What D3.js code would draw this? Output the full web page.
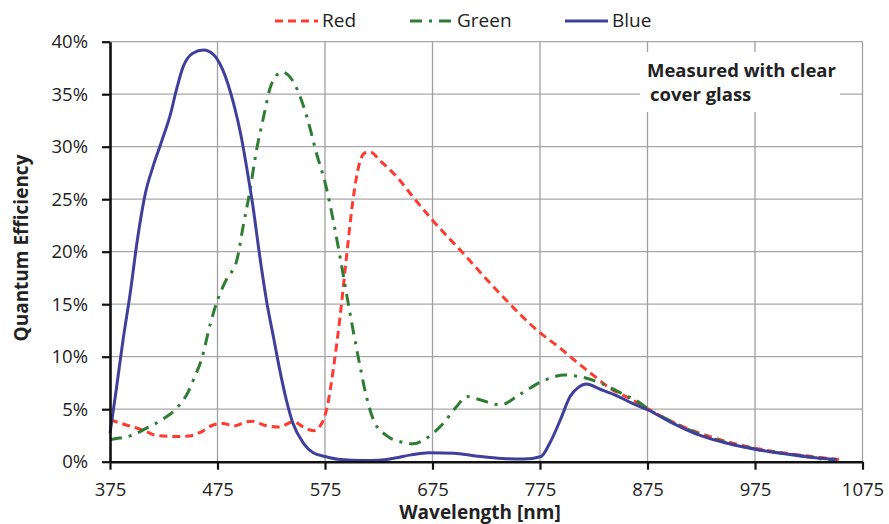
<!DOCTYPE html>
<html>
<head>
<meta charset="utf-8">
<script src="https://cdn.jsdelivr.net/npm/d3@7"></script>
<style>
    body { margin: 0; background: #fff; }
    text { font-family: "Open Sans", sans-serif; fill: #222; }
</style>
</head>
<body>
<svg id="chart" width="889" height="524"></svg>
<script>
// tick values
var xTicks = [375, 475, 575, 675, 775, 875, 975, 1075];
var yTicks = [0, 5, 10, 15, 20, 25, 30, 35, 40];

// Blue channel (wavelength nm / QE %)
var blueWl = [375, 381, 387, 394, 400, 408, 415, 423, 431, 437, 443, 452, 462, 471, 480, 490, 497, 502, 508, 514,
    521, 527, 533, 539, 545, 555, 564, 575, 590, 610, 625, 640, 655, 672, 695, 715, 740, 760, 776, 784,
    794, 803, 811, 818, 831, 846, 860, 876, 896, 924, 949, 976, 1004, 1029, 1051];
var blueQE = [2.7, 7.0, 11.5, 16.2, 20.8, 25.6, 28.1, 30.5, 33.0, 35.5, 37.6, 38.9, 39.2, 38.8, 37.3, 34.1, 31.0, 28.1, 24.3, 19.8,
    15.1, 11.9, 8.7, 5.9, 3.7, 1.75, 0.85, 0.5, 0.2, 0.12, 0.15, 0.35, 0.65, 0.85, 0.8, 0.55, 0.3, 0.25, 0.5, 1.75,
    4.0, 6.2, 7.1, 7.4, 6.9, 6.3, 5.6, 4.9, 3.8, 2.5, 1.75, 1.17, 0.73, 0.41, 0.2];

// Green channel
var greenWl = [375, 381, 395, 409, 425, 437, 448, 453, 460, 468, 474, 483, 493, 499, 505, 511, 518, 525, 535, 541,
    547, 558, 567, 576, 583, 589, 595, 601, 607, 614, 620, 632, 645, 657, 669, 685, 697, 707, 719, 738,
    756, 778, 798, 812, 831, 849, 868, 876, 896, 924, 949, 976, 1004, 1029, 1048];
var greenQE = [2.1, 2.2, 2.5, 3.2, 4.1, 5.1, 6.7, 7.9, 9.7, 13.0, 15.1, 17.3, 19.2, 22.5, 25.7, 29.5, 32.9, 35.9, 37.1, 36.8,
    35.9, 32.9, 29.4, 26.2, 22.8, 19.5, 16.0, 12.6, 9.4, 6.0, 4.0, 2.5, 1.9, 1.7, 2.2, 3.65, 5.2, 6.2, 5.9, 5.4,
    6.4, 7.7, 8.25, 8.1, 7.5, 6.6, 5.6, 5.0, 3.9, 2.6, 1.8, 1.2, 0.75, 0.4, 0.06];

// Red channel
var redWl = [375, 390, 406, 418, 434, 449, 459, 471, 480, 490, 502, 508, 518, 532, 546, 555, 564, 572, 577, 583,
    589, 595, 601, 607, 612, 617, 626, 642, 657, 675, 704, 735, 776, 794, 809, 825, 840, 859, 876, 896,
    924, 949, 976, 1004, 1029, 1053];
var redQE = [4.0, 3.5, 3.0, 2.5, 2.4, 2.45, 2.8, 3.5, 3.65, 3.4, 3.8, 3.85, 3.5, 3.3, 3.8, 3.3, 2.95, 3.65, 5.2, 9.0,
    13.8, 19.5, 24.9, 28.4, 29.4, 29.5, 28.7, 27.1, 25.2, 23.0, 19.8, 16.3, 12.2, 10.8, 9.5, 8.2, 7.0, 6.0, 5.0, 3.9,
    2.7, 1.9, 1.27, 0.8, 0.48, 0.2];

var series = [
    {name: 'Red', wl: redWl, qe: redQE, color: '#ff3b2f', dash: '8,5', lx: 275},
    {name: 'Green', wl: greenWl, qe: greenQE, color: '#2e7d32', dash: '12,7,3,7', lx: 410},
    {name: 'Blue', wl: blueWl, qe: blueQE, color: '#3f3f9c', dash: null, lx: 565}
];

var svg = d3.select('#chart');
var plot = {left: 110, right: 862.5, top: 41.7, bottom: 461.7};

var x = d3.scaleLinear().domain([375, 1075]).range([plot.left, plot.right]);
var y = d3.scaleLinear().domain([0, 40]).range([plot.bottom, plot.top]);

// grid
var grid = svg.append('g').attr('class', 'grid');
grid.selectAll('line.h')
    .data(yTicks.filter(function (d) { return d > 0; }))
    .enter().append('line')
    .attr('x1', plot.left).attr('x2', plot.right)
    .attr('y1', y).attr('y2', y)
    .attr('stroke', '#a8a8a8').attr('stroke-width', 1.3);
grid.selectAll('line.v')
    .data(xTicks.filter(function (d) { return d > 375; }))
    .enter().append('line')
    .attr('x1', x).attr('x2', x)
    .attr('y1', plot.top).attr('y2', plot.bottom)
    .attr('stroke', '#a0a0a0').attr('stroke-width', 1.3);

// note box hides grid behind it
svg.append('rect')
    .attr('x', 640).attr('y', 52).attr('width', 200).attr('height', 60)
    .attr('fill', '#fff');
var note = svg.append('text')
    .attr('x', 647).attr('y', 77)
    .style('font-size', '18.5px').style('font-weight', 'bold');
note.append('tspan').text('Measured with clear');
note.append('tspan').attr('x', 650).attr('y', 101).text('cover glass');

// curves
var line = d3.line().curve(d3.curveMonotoneX);
series.forEach(function (s) {
    var pts = s.wl.map(function (w, i) { return [x(w), y(s.qe[i])]; });
    svg.append('path')
        .attr('d', line(pts))
        .attr('fill', 'none')
        .attr('stroke', s.color)
        .attr('stroke-width', 3)
        .attr('stroke-dasharray', s.dash);
});

// axes
var yAxis = svg.append('g')
    .attr('transform', 'translate(' + plot.left + ',0)')
    .call(d3.axisLeft(y).tickValues(yTicks).tickFormat(function (d) { return d + '%'; })
        .tickSizeInner(8).tickSizeOuter(0).tickPadding(14));
var xAxis = svg.append('g')
    .attr('transform', 'translate(0,' + plot.bottom + ')')
    .call(d3.axisBottom(x).tickValues(xTicks).tickFormat(d3.format('d'))
        .tickSizeInner(8).tickSizeOuter(0));
[xAxis, yAxis].forEach(function (g) {
    g.select('.domain').attr('stroke', '#111').attr('stroke-width', 2.6);
    g.selectAll('.tick line').attr('stroke', '#111').attr('stroke-width', 2.2);
    g.selectAll('.tick text').style('font-size', '18.5px').style('font-family', '"Open Sans", sans-serif').attr('fill', '#222');
});
xAxis.selectAll('.tick text').attr('dy', null).attr('y', 34);

// axis titles
svg.append('text')
    .attr('transform', 'translate(28,248) rotate(-90)')
    .attr('text-anchor', 'middle')
    .style('font-size', '19px').style('font-weight', 'bold')
    .text('Quantum Efficiency');
svg.append('text')
    .attr('x', 480).attr('y', 519)
    .attr('text-anchor', 'middle')
    .style('font-size', '19px').style('font-weight', 'bold')
    .text('Wavelength [nm]');

// legend
var legend = svg.append('g');
series.forEach(function (s) {
    legend.append('line')
        .attr('x1', s.lx).attr('x2', s.lx + 43)
        .attr('y1', 21).attr('y2', 21)
        .attr('stroke', s.color).attr('stroke-width', 3)
        .attr('stroke-dasharray', s.dash);
    legend.append('text')
        .attr('x', s.lx + 47).attr('y', 27)
        .style('font-size', '19px')
        .text(s.name);
});
</script>
</body>
</html>
